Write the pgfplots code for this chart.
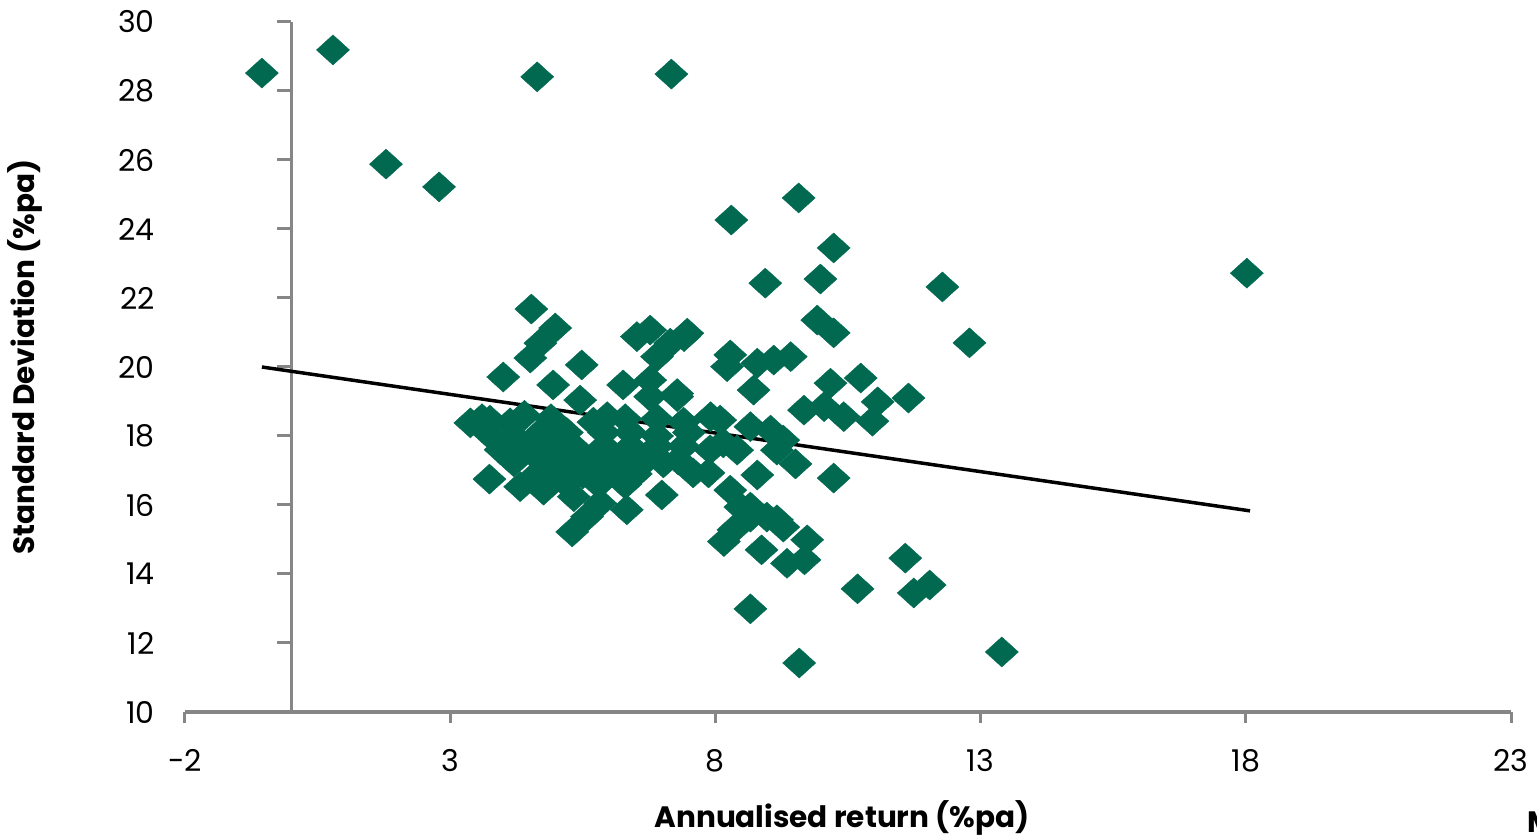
\documentclass[border=0pt]{standalone}
\usepackage{pgfplots}
\pgfplotsset{compat=1.18}
\usepackage{fontspec}
\setmainfont{Poppins}
\definecolor{mkgreen}{RGB}{0,105,80}
\definecolor{axgray}{RGB}{134,134,134}
\pgfplotstableread{
x y
-0.55 28.52
0.79 29.19
1.79 25.88
2.79 25.22
4.64 28.41
7.17 28.49
9.57 24.90
8.30 24.26
10.23 23.45
8.94 22.43
9.98 22.55
18.02 22.72
12.28 22.32
12.79 20.70
4.53 21.68
13.40 11.74
9.58 11.42
8.66 12.99
10.68 13.57
11.74 13.45
12.04 13.68
11.58 14.46
11.64 19.10
11.06 18.99
10.96 18.43
10.74 19.68
10.23 16.78
9.51 17.19
8.87 14.70
9.35 14.31
9.68 14.41
9.73 14.99
8.16 14.94
8.34 15.28
8.66 15.94
8.47 15.94
9.16 15.57
8.66 15.65
8.97 15.65
9.28 15.36
8.79 16.87
6.99 16.29
8.28 16.43
8.41 17.59
7.58 16.93
7.87 16.93
7.02 17.22
9.16 17.59
8.15 17.80
9.92 21.36
10.23 20.99
8.28 20.35
8.22 20.01
8.79 20.11
9.10 20.20
9.42 20.30
8.72 19.33
10.17 19.53
9.67 18.75
10.05 18.85
10.42 18.56
7.41 20.88
7.15 20.69
6.77 21.07
6.90 20.30
6.77 19.62
7.28 19.23
7.91 18.56
8.09 18.46
8.66 18.27
9.04 18.17
9.28 17.88
4.98 21.13
4.70 20.69
4.51 20.26
4.00 19.71
4.94 19.48
5.48 20.06
6.26 19.48
6.52 20.88
7.47 20.98
5.45 19.04
3.75 18.46
3.38 18.38
4.13 18.38
6.77 19.14
7.28 19.14
5.96 18.56
5.30 15.22
5.58 15.66
6.33 15.86
4.32 16.53
4.76 16.43
5.33 16.24
5.83 16.05
3.74 16.75
3.60 18.50
4.40 18.60
4.90 18.50
5.70 18.40
6.30 18.50
6.90 18.50
7.40 18.40
3.70 18.10
4.20 18.00
4.70 18.10
5.20 18.10
5.90 18.10
6.40 18.10
6.90 18.00
7.50 18.10
3.95 17.60
4.50 17.70
5.00 17.70
5.40 17.60
5.90 17.70
6.40 17.70
6.90 17.70
7.40 17.70
7.90 17.60
4.20 17.25
4.70 17.30
5.20 17.30
5.70 17.30
6.20 17.30
6.70 17.30
7.30 17.30
4.60 16.85
5.00 16.90
5.50 16.90
6.00 16.90
6.50 16.90
5.20 16.60
5.80 16.60
6.30 16.60
}\datatable
\begin{document}
\begin{tikzpicture}
\begin{axis}[
  at={(0,0)}, anchor=south west,
  scale only axis, width=1326pt, height=690pt,
  xmin=-2, xmax=23, ymin=10, ymax=30,
  axis x line*=bottom, axis y line*=left,
  x axis line style={draw=axgray, line width=3pt},
  y axis line style={draw=none},
  xtick={-2,3,8,13,18,23}, ytick={10,12,...,30},
  xtick style={draw=axgray, line width=3pt},
  ytick style={draw=none},
  tick align=outside, major tick length=11pt,
  tick label style={font=\fontsize{30}{34}\selectfont, text=black},
  xticklabel style={inner sep=0pt, anchor=north, yshift=-26pt},
  yticklabel style={inner sep=0pt, anchor=east, xshift=-19pt},
  /pgf/number format/assume math mode=true,
  clip=false,
  xlabel={Annualised return (\%pa)},
  ylabel={Standard Deviation (\%pa)},
  label style={font=\bfseries\fontsize{29.5}{34}\selectfont},
  xlabel style={at={(axis description cs:0.4955,-0.1536)}, anchor=center, inner sep=0pt},
  ylabel style={at={(axis description cs:-0.1207,0.5145)}, anchor=center, inner sep=0pt},
]
\addplot[only marks, mark=diamond*, mark size=15pt,
  mark options={xscale=1.47, fill=mkgreen, draw=mkgreen, line width=0.4pt}]
  table[x=x, y=y] {\datatable};
% y axis line at x = 0 with outward ticks
\draw[axgray, line width=3pt] (axis cs:0,10) -- (axis cs:0,30);
\draw[axgray, line width=3pt] (axis cs:0,10) -- ++(-14pt,0pt);
\draw[axgray, line width=3pt] (axis cs:0,12) -- ++(-14pt,0pt);
\draw[axgray, line width=3pt] (axis cs:0,14) -- ++(-14pt,0pt);
\draw[axgray, line width=3pt] (axis cs:0,16) -- ++(-14pt,0pt);
\draw[axgray, line width=3pt] (axis cs:0,18) -- ++(-14pt,0pt);
\draw[axgray, line width=3pt] (axis cs:0,20) -- ++(-14pt,0pt);
\draw[axgray, line width=3pt] (axis cs:0,22) -- ++(-14pt,0pt);
\draw[axgray, line width=3pt] (axis cs:0,24) -- ++(-14pt,0pt);
\draw[axgray, line width=3pt] (axis cs:0,26) -- ++(-14pt,0pt);
\draw[axgray, line width=3pt] (axis cs:0,28) -- ++(-14pt,0pt);
\draw[axgray, line width=3pt] (axis cs:0,30) -- ++(-14pt,0pt);
\addplot[black, line width=3.5pt, no marks] coordinates {(-0.55,20.0) (18.08,15.83)};
\node[anchor=north west, inner sep=0pt, font=\bfseries\fontsize{29.5}{34}\selectfont] at (axis description cs:1.0121,-0.145) {M};
\end{axis}
\pgfresetboundingbox
\path[use as bounding box] (-185pt,-123pt) rectangle (1352pt,712pt);
\end{tikzpicture}
\end{document}
